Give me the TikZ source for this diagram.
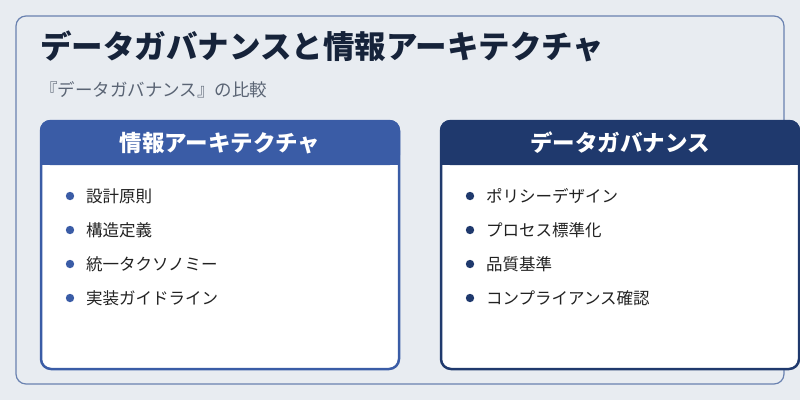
\documentclass[tikz,border=0pt]{standalone}
\usepackage{fontspec}
\setmainfont{Noto Sans CJK JP}
\definecolor{bgc}{HTML}{E8ECF1}
\definecolor{framec}{HTML}{6A82B0}
\definecolor{titlec}{HTML}{16233A}
\definecolor{subc}{HTML}{5A6474}
\definecolor{leftc}{HTML}{3A5CA6}
\definecolor{rightc}{HTML}{1F396D}
\definecolor{itemc}{HTML}{222222}
\tikzset{
  item/.style={anchor=west, font=\fontsize{16.5}{18}\selectfont, text=itemc, inner sep=0pt},
  head/.style={font=\fontsize{22.5}{26}\selectfont\bfseries, text=white}
}
\begin{document}
\begin{tikzpicture}[x=1pt, y=-1pt]
		% Background and frame
		\fill[bgc] (0,0) rectangle (800,400);
		\useasboundingbox (0,0) rectangle (800,400);
		\draw[framec, line width=1.2pt, rounded corners=10pt] (16,16) rectangle (784,384);
		
		% Titles
		\node[anchor=west, inner sep=0pt, font=\fontsize{31.5}{36}\selectfont\bfseries, text=titlec] (title) at (40,46) {データガバナンスと情報アーキテクチャ};
		\node[anchor=west, inner sep=0pt, font=\fontsize{17.5}{20}\selectfont, text=subc] (subtitle) at (40,90) {『データガバナンス』の比較};
		
		% Left card
		\fill[white, rounded corners=10pt] (40,120) rectangle (400,370);
		\fill[leftc, rounded corners=10pt] (40,120) rectangle (400,165);
		\fill[leftc] (40,150) rectangle (400,165);
		\draw[leftc, line width=2.5pt, rounded corners=10pt] (41,121) rectangle (399,369);
		\node[head] (lhead) at (220,143) {情報アーキテクチャ};
		\foreach \y/\t in {196/設計原則, 230/構造定義, 264/統一タクソノミー, 298/実装ガイドライン} {
			\fill[leftc] (70,\y) circle (4.2pt);
			\node[item] at (86,\y) {\t};
		}
		
		% Right card
		\fill[white, rounded corners=10pt] (440,120) rectangle (800,370);
		\fill[rightc, rounded corners=10pt] (440,120) rectangle (800,165);
		\fill[rightc] (440,150) rectangle (800,165);
		\draw[rightc, line width=2.5pt, rounded corners=10pt] (441,121) rectangle (799,369);
		\node[head] (rhead) at (620,143) {データガバナンス};
		\foreach \y/\t in {196/ポリシーデザイン, 230/プロセス標準化, 264/品質基準, 298/コンプライアンス確認} {
			\fill[rightc] (470,\y) circle (4.2pt);
			\node[item] at (486,\y) {\t};
		}
\end{tikzpicture}
\end{document}
